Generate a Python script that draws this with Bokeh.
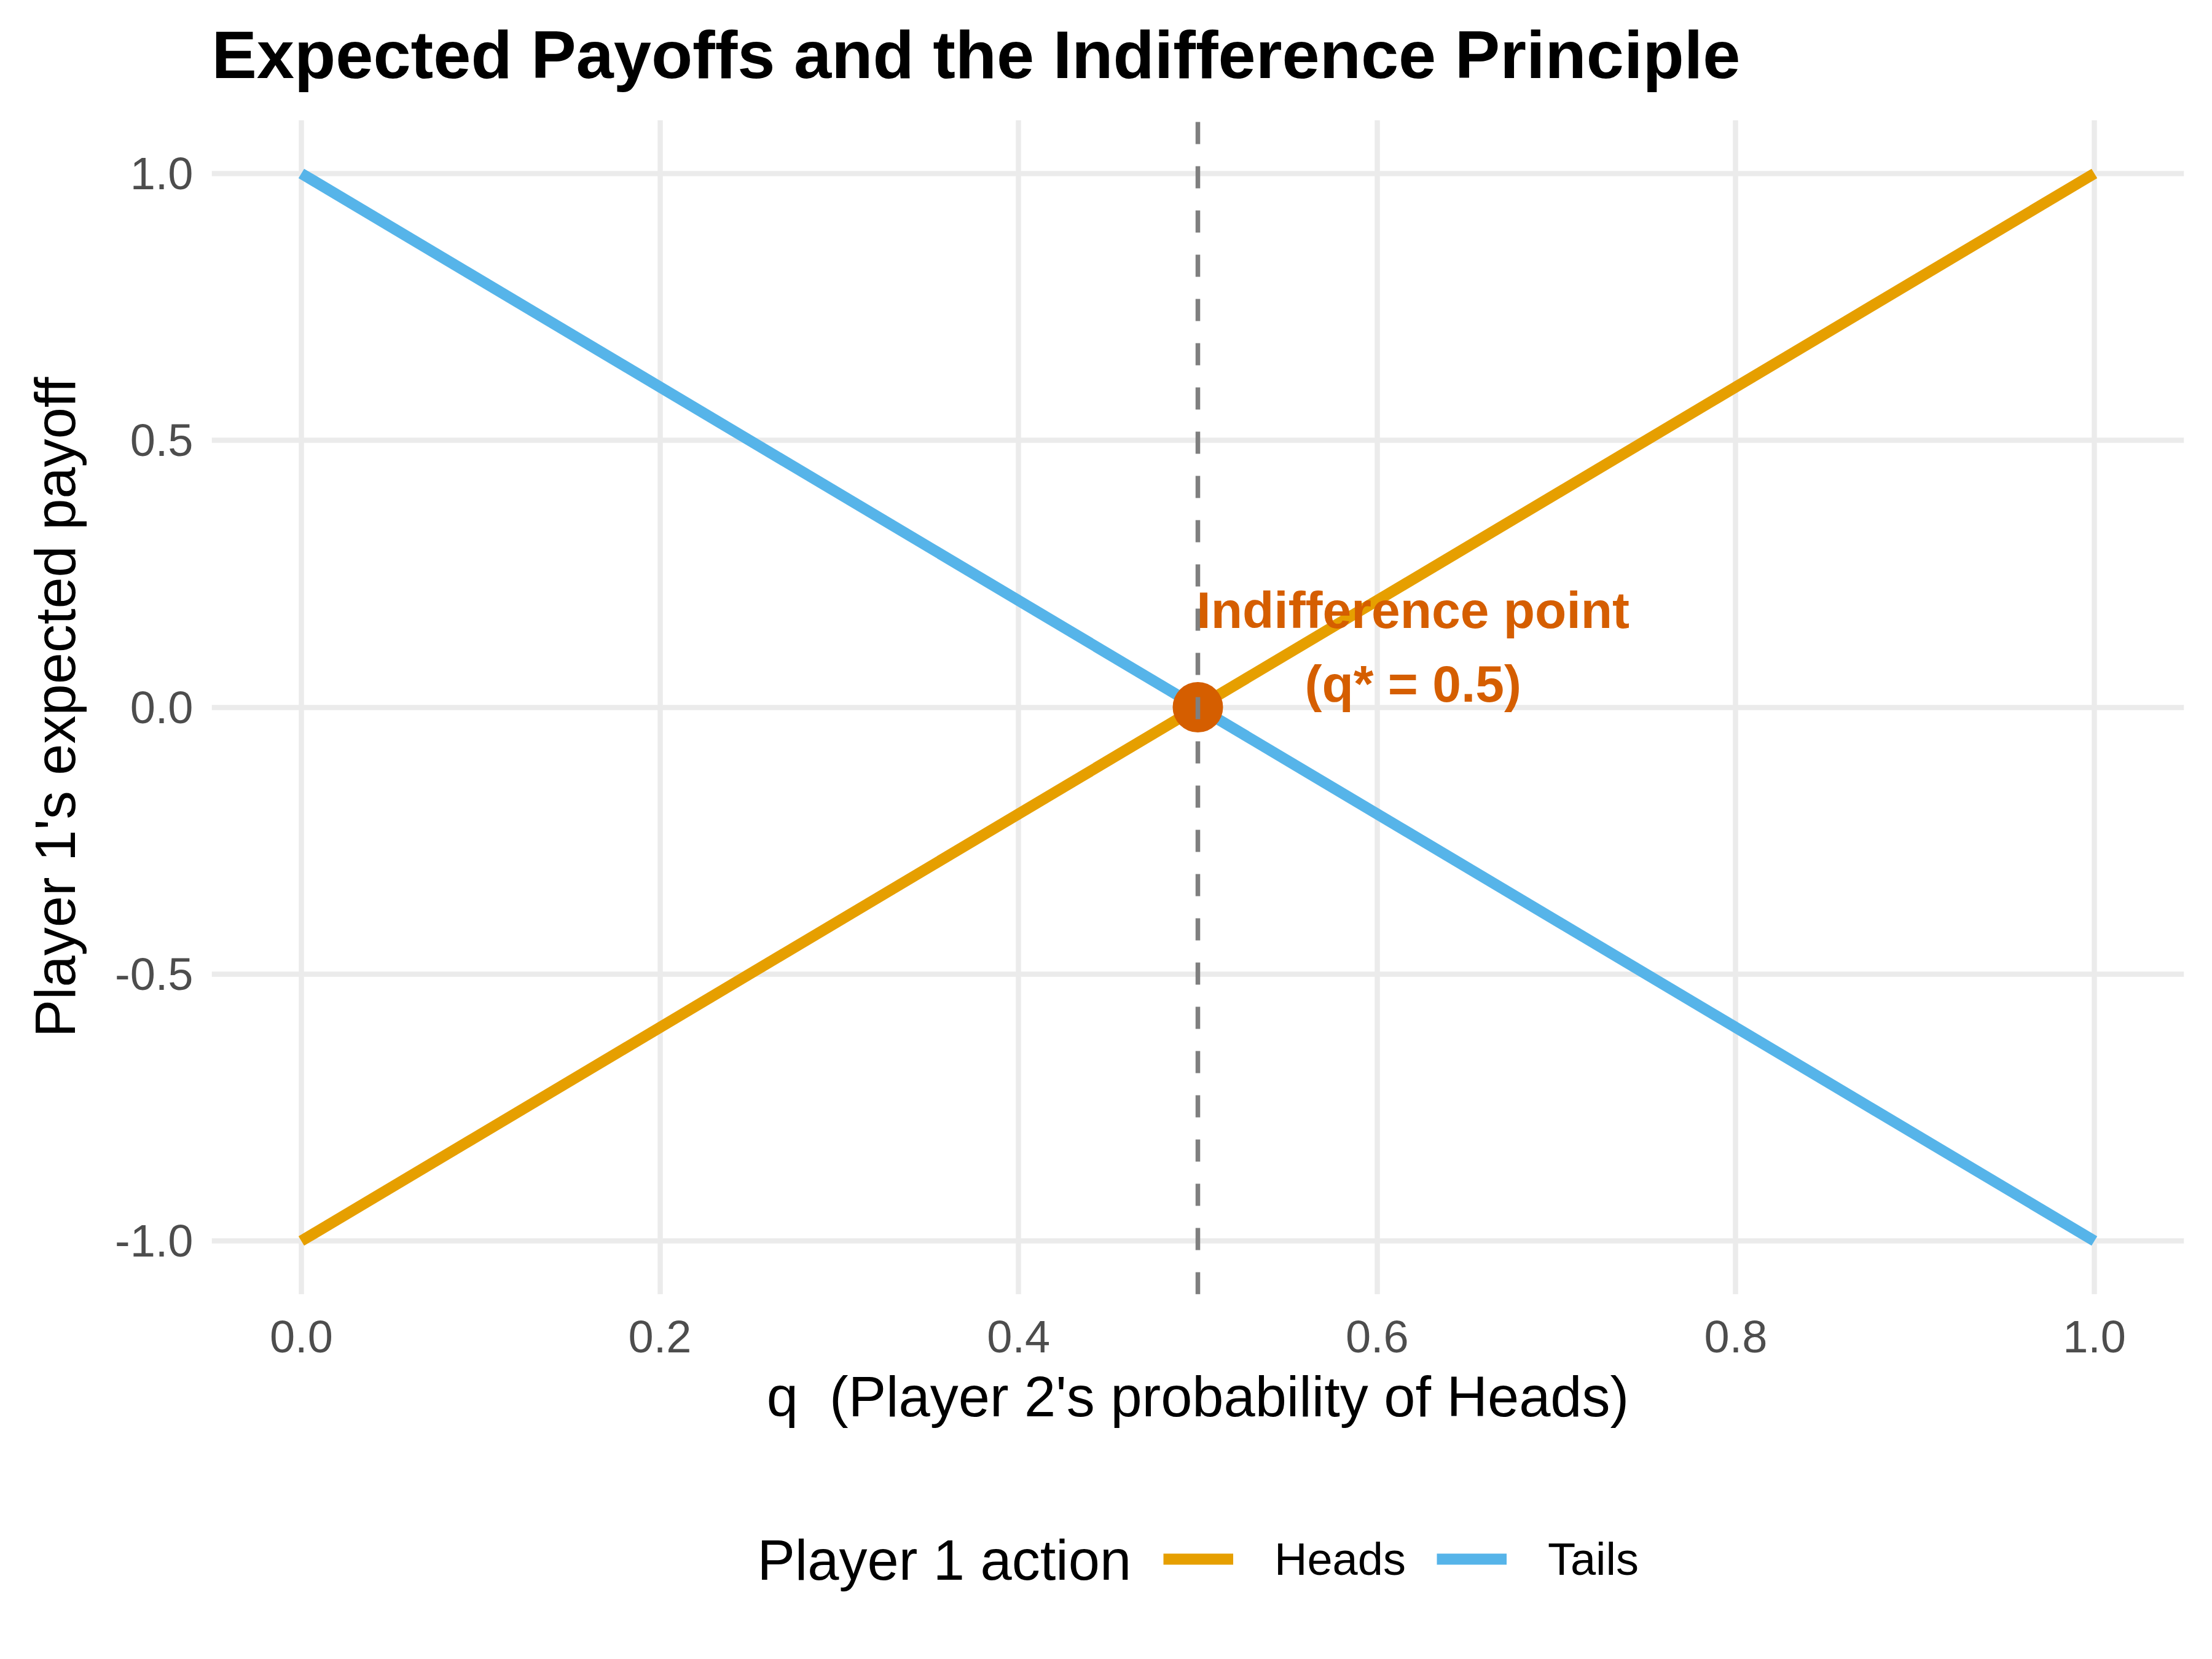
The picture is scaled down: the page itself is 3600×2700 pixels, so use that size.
import bokeh.layouts
import bokeh.models
import bokeh.plotting
from bokeh.core.properties import value
from bokeh.embed import file_html
from bokeh.resources import INLINE

# expected payoff of each of player 1's actions against q
q = [0.0, 1.0]
heads_payoff = [-1.0, 1.0]
tails_payoff = [1.0, -1.0]

# indifference point
q_star = 0.5
payoff_star = 0.0
annotation_lines = ['Indifference point', '(q* = 0.5)']
annotation_x = [0.62, 0.62]
annotation_y = [0.182, 0.044]

x_ticks = [0.0, 0.2, 0.4, 0.6, 0.8, 1.0]
x_tick_labels = ['0.0', '0.2', '0.4', '0.6', '0.8', '1.0']
y_ticks = [-1.0, -0.5, 0.0, 0.5, 1.0]
y_tick_labels = ['-1.0', '-0.5', '0.0', '0.5', '1.0']

actions = ['Heads', 'Tails']

FONT = 'Liberation Sans'
COLORS = {'Heads': '#E69F00', 'Tails': '#56B4E9'}
POINT = '#D55E00'

source = bokeh.models.ColumnDataSource(dict(q=q, Heads=heads_payoff, Tails=tails_payoff))


def strip(height, y_range):
    # a frame-only figure used for the title and for the legend row
    f = bokeh.plotting.figure(width=3584, height=height,
                              x_range=bokeh.models.Range1d(-0.05, 1.05), y_range=y_range,
                              output_backend='svg', toolbar_location=None, tools='',
                              x_axis_location=None, y_axis_location=None, min_border=0)
    f.outline_line_color = None
    f.grid.visible = False
    f.background_fill_color = 'white'
    f.border_fill_color = 'white'
    return f


header = strip(195, bokeh.models.Range1d(0, 1))
header.add_layout(bokeh.models.Label(x=0, y=107, x_units='screen', y_units='screen',
                                     text='Expected Payoffs and the Indifference Principle',
                                     text_font=FONT, text_font_size='110px',
                                     text_font_style='bold', text_color='black',
                                     text_baseline='alphabetic', text_align='left'))

p = bokeh.plotting.figure(width=3584, height=2197,
                          x_range=bokeh.models.Range1d(-0.05, 1.05),
                          y_range=bokeh.models.Range1d(-1.1, 1.1),
                          x_axis_label="q \u00a0(Player 2's probability of Heads)",
                          y_axis_label="Player 1's expected payoff",
                          output_backend='svg', toolbar_location=None, tools='',
                          min_border_left=344, min_border_right=30,
                          min_border_top=0, min_border_bottom=286)
p.outline_line_color = None
p.background_fill_color = 'white'
p.border_fill_color = 'white'

for axis, ticks, labels in ((p.xaxis[0], x_ticks, x_tick_labels), (p.yaxis[0], y_ticks, y_tick_labels)):
    axis.ticker = bokeh.models.FixedTicker(ticks=ticks)
    axis.major_label_overrides = dict(zip(ticks, labels))
    axis.axis_line_color = None
    axis.major_tick_line_color = None
    axis.minor_tick_line_color = None
    axis.major_tick_out = 0
    axis.major_label_text_font = FONT
    axis.major_label_text_font_size = '74px'
    axis.major_label_text_color = '#4D4D4D'
    axis.axis_label_text_font = FONT
    axis.axis_label_text_font_size = '92px'
    axis.axis_label_text_font_style = 'normal'
    axis.axis_label_text_color = 'black'
p.xaxis.major_label_standoff = 43
p.xaxis.axis_label_standoff = 18
p.yaxis.major_label_standoff = 30
p.yaxis.axis_label_standoff = 43

p.xgrid.ticker = bokeh.models.FixedTicker(ticks=x_ticks)
p.ygrid.ticker = bokeh.models.FixedTicker(ticks=y_ticks)
p.grid.grid_line_color = '#EBEBEB'
p.grid.grid_line_width = 8.5

for action in actions:
    p.line('q', action, source=source, line_color=COLORS[action], line_width=18)
p.scatter([q_star], [payoff_star], size=82, fill_color=POINT, line_color=None)
p.segment(x0=[q_star], y0=[p.y_range.start], x1=[q_star], y1=[p.y_range.end],
          line_color='#7F7F7F', line_width=7.5, line_dash='36 36')
p.text(x=annotation_x, y=annotation_y, text=annotation_lines,
       text_font=value(FONT), text_font_size='84px', text_font_style='bold',
       text_color=POINT, text_align='center', text_baseline='alphabetic')

# legend row: the same series drawn again, but outside this strip's y range,
# so only their legend keys show
key = strip(292, bokeh.models.Range1d(5, 6))
items = []
for action in actions:
    r = key.line('q', action, source=source, line_color=COLORS[action], line_width=18)
    items.append((action, [r]))

legend = bokeh.models.Legend(items=items, orientation='horizontal', location=(1549, 97))
legend.label_text_font = FONT
legend.label_text_font_size = '74px'
legend.label_text_color = 'black'
legend.glyph_width = 114
legend.glyph_height = 100
legend.label_height = 100
legend.label_standoff = 67
legend.spacing = 50
legend.padding = 0
legend.margin = 0
legend.border_line_color = None
legend.background_fill_alpha = 0
key.add_layout(legend)

key.add_layout(bokeh.models.Label(x=888, y=146, x_units='screen', y_units='screen',
                                  text='Player 1 action', text_font=FONT,
                                  text_font_size='92px', text_color='black',
                                  text_baseline='alphabetic', text_align='left'))

page = bokeh.layouts.column(header, p, key, spacing=0)
open('out.html', 'w').write(file_html(page, INLINE))
